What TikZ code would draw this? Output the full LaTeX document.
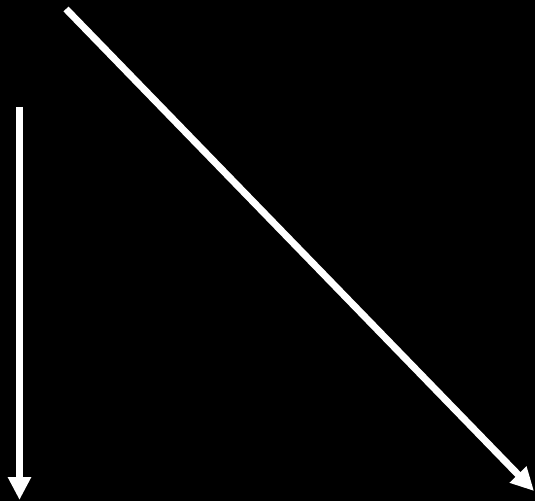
\documentclass[tikz,border=0pt]{standalone}
\usetikzlibrary{arrows.meta}
\tikzset{
  whitearrow/.style={draw=white, line width=7pt, -{Triangle[length=23pt,width=22pt]}}
}
\begin{document}
\begin{tikzpicture}[x=1pt,y=1pt]
% background
\fill[black] (0,0) rectangle (535,501);
\useasboundingbox (0,0) rectangle (535,501);
% vertical arrow
\coordinate (vtop) at (19.5,394);
\coordinate (vbot) at (19.5,1);
\draw[whitearrow] (vtop) -- (vbot);
% diagonal arrow
\coordinate (dtop) at (66,492);
\coordinate (dbot) at (534,10);
\draw[whitearrow] (dtop) -- (dbot);
\end{tikzpicture}
\end{document}
